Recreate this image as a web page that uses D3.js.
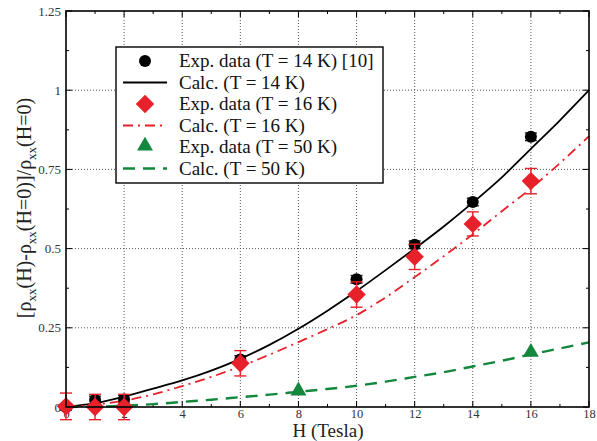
<!DOCTYPE html>
<html>
<head>
<meta charset="utf-8">
<script src="https://cdn.jsdelivr.net/npm/d3@7"></script>
<style>
body { margin: 0; background: #fff; }
svg text { font-family: "Liberation Serif", "DejaVu Serif", serif; }
</style>
</head>
<body>
<svg id="chart" width="597" height="441"></svg>
<script>
// values
var curveH = [0,1,2,3,4,5,6,7,8,9,10,11,12,13,14,15,16,17,18];
var calc14 = [0,0.012,0.033,0.058,0.084,0.115,0.152,0.196,0.247,0.304,0.366,0.432,0.5,0.57,0.645,0.725,0.815,0.905,1.0];
var calc16 = [0,0.007,0.02,0.04,0.066,0.095,0.128,0.165,0.205,0.246,0.29,0.346,0.41,0.476,0.545,0.618,0.69,0.77,0.855];
var calc50 = [0,0.001,0.004,0.009,0.016,0.023,0.031,0.039,0.048,0.057,0.067,0.08,0.095,0.11,0.128,0.146,0.166,0.185,0.204];

var exp14H = [0,1,2,6,10,12,14,16];
var exp14V = [0,0.022,0.024,0.15,0.403,0.512,0.647,0.853];
var exp14E = [0.01,0.012,0.012,0.012,0.012,0.012,0.012,0.012];

var exp16H = [0,1,2,6,10,12,14,16];
var exp16V = [0.002,0,0,0.138,0.355,0.474,0.578,0.713];
var exp16E = [0.042,0.04,0.04,0.04,0.04,0.04,0.038,0.04];

var exp50H = [8,16];
var exp50V = [0.048,0.17];

var xTicks = [0,2,4,6,8,10,12,14,16,18];
var yTicks = [0,0.25,0.5,0.75,1,1.25];
var yTickLabels = ["0","0.25","0.5","0.75","1","1.25"];

var legendLabels = ["Exp. data (T = 14 K) [10]","Calc. (T = 14 K)","Exp. data (T = 16 K)","Calc. (T = 16 K)","Exp. data (T = 50 K)","Calc. (T = 50 K)"];

var red = "#e8202a", green = "#13873c";
var serif = "Liberation Serif";

var svg = d3.select("#chart");
var pL = 66, pR = 589, pT = 11, pB = 407;
var x = d3.scaleLinear().domain([0,18]).range([pL,pR]);
var y = d3.scaleLinear().domain([0,1.25]).range([pB,pT]);

// grid
var grid = svg.append("g").attr("stroke","#555").attr("stroke-width",1).attr("stroke-dasharray","1,2");
grid.selectAll(".gx").data(xTicks.slice(1,-1)).enter().append("line")
	.attr("x1",function(d){return x(d);}).attr("x2",function(d){return x(d);})
	.attr("y1",pT).attr("y2",pB);
grid.selectAll(".gy").data(yTicks.slice(1,-1)).enter().append("line")
	.attr("x1",pL).attr("x2",pR)
	.attr("y1",function(d){return y(d);}).attr("y2",function(d){return y(d);});

// axes
var xAxis = d3.axisBottom(x).tickValues(xTicks).tickSize(0).tickPadding(2);
var gx = svg.append("g").attr("transform","translate(0,"+pB+")").call(xAxis);
gx.select(".domain").remove();
gx.selectAll("text").attr("font-size",12.5).attr("fill","#333").attr("font-family",serif);

var yAxis = d3.axisLeft(y).tickValues(yTicks).tickSize(0).tickPadding(5)
	.tickFormat(function(d,i){return yTickLabels[i];});
var gy = svg.append("g").attr("transform","translate("+pL+",0)").call(yAxis);
gy.select(".domain").remove();
gy.selectAll("text").attr("font-size",13).attr("fill","#333").attr("font-family",serif);

// inward ticks on all four sides
var yMinor = d3.range(0,1.26,0.125);
var xMinor = d3.range(0,18.1,1);
var ticks = svg.append("g").attr("stroke","#000").attr("stroke-width",1);
[pL,pR].forEach(function(px){
	var dir = px==pL ? 1 : -1;
	ticks.selectAll(null).data(yMinor).enter().append("line")
		.attr("x1",px).attr("x2",function(d,i){return px+dir*(i%2==0?6:3);})
		.attr("y1",function(d){return y(d);}).attr("y2",function(d){return y(d);});
});
[pB,pT].forEach(function(py){
	var dir = py==pB ? -1 : 1;
	ticks.selectAll(null).data(xMinor).enter().append("line")
		.attr("y1",py).attr("y2",function(d,i){return py+dir*(i%2==0?6:3);})
		.attr("x1",function(d){return x(d);}).attr("x2",function(d){return x(d);});
});

// curves
var line = d3.line().x(function(d,i){return x(curveH[i]);}).y(function(d){return y(d);}).curve(d3.curveMonotoneX);
svg.append("path").datum(calc14).attr("d",line).attr("fill","none").attr("stroke","#000").attr("stroke-width",1.8);
svg.append("path").datum(calc16).attr("d",line).attr("fill","none").attr("stroke",red).attr("stroke-width",1.8)
	.attr("stroke-dasharray","10,5,2,5");
svg.append("path").datum(calc50).attr("d",line).attr("fill","none").attr("stroke",green).attr("stroke-width",2.4)
	.attr("stroke-dasharray","12,8");

// error bars
function errorBars(hs, vs, es, color){
	var g = svg.append("g").attr("stroke",color).attr("stroke-width",1.4);
	hs.forEach(function(h,i){
		var cx = x(h), y1 = y(vs[i]+es[i]), y2 = y(vs[i]-es[i]);
		g.append("line").attr("x1",cx).attr("x2",cx).attr("y1",y1).attr("y2",y2);
		g.append("line").attr("x1",cx-6).attr("x2",cx+6).attr("y1",y1).attr("y2",y1);
		g.append("line").attr("x1",cx-6).attr("x2",cx+6).attr("y1",y2).attr("y2",y2);
	});
}
errorBars(exp14H, exp14V, exp14E, "#222");
svg.append("g").selectAll("circle").data(exp14V).enter().append("circle")
	.attr("cx",function(d,i){return x(exp14H[i]);}).attr("cy",function(d){return y(d);})
	.attr("r",6).attr("fill","#000");

errorBars(exp16H, exp16V, exp16E, red);
var diamond = d3.symbol().type(d3.symbolSquare).size(170);
svg.append("g").selectAll("path").data(exp16V).enter().append("path")
	.attr("d",diamond)
	.attr("transform",function(d,i){return "translate("+x(exp16H[i])+","+y(d)+") rotate(45)";})
	.attr("fill",red);

var tri = d3.symbol().type(d3.symbolTriangle).size(110);
svg.append("g").selectAll("path").data(exp50V).enter().append("path")
	.attr("d",tri)
	.attr("transform",function(d,i){return "translate("+x(exp50H[i])+","+(y(d)-1)+")";})
	.attr("fill",green);

// frame
svg.append("rect").attr("x",pL).attr("y",pT).attr("width",pR-pL).attr("height",pB-pT)
	.attr("fill","none").attr("stroke","#000").attr("stroke-width",1.6);

// legend
var lg = svg.append("g");
lg.append("rect").attr("x",116).attr("y",47).attr("width",267).attr("height",136)
	.attr("fill","#fff").attr("stroke","#000").attr("stroke-width",1.4);
var rowY = function(i){return 61 + i*21.5;};
lg.selectAll("text").data(legendLabels).enter().append("text")
	.attr("x",179).attr("y",function(d,i){return rowY(i)+6;})
	.attr("font-size",19).attr("font-family",serif).attr("fill","#111").text(function(d){return d;});
lg.append("circle").attr("cx",145).attr("cy",rowY(0)).attr("r",6).attr("fill","#000");
lg.append("path").attr("d",diamond).attr("transform","translate(145,"+rowY(2)+") rotate(45)").attr("fill",red);
lg.append("path").attr("d",tri).attr("transform","translate(145,"+(rowY(4)-1)+")").attr("fill",green);
lg.append("line").attr("x1",123).attr("x2",167).attr("y1",rowY(1)).attr("y2",rowY(1)).attr("stroke","#000").attr("stroke-width",1.8);
lg.append("line").attr("x1",123).attr("x2",167).attr("y1",rowY(3)).attr("y2",rowY(3)).attr("stroke",red).attr("stroke-width",1.8).attr("stroke-dasharray","10,5,2,5");
lg.append("line").attr("x1",123).attr("x2",167).attr("y1",rowY(5)).attr("y2",rowY(5)).attr("stroke",green).attr("stroke-width",2.4).attr("stroke-dasharray","12,8");

// axis titles
svg.append("text").attr("x",328).attr("y",437).attr("text-anchor","middle").attr("font-size",19)
	.attr("font-family",serif).attr("fill","#222").text("H (Tesla)");

var yt = svg.append("text").attr("transform","translate(31,208) rotate(-90)").attr("text-anchor","middle")
	.attr("font-size",20).attr("font-family",serif).attr("fill","#222");
var parts = [["[ρ",false],["xx",true],["(H)-ρ",false],["xx",true],["(H=0)]/ρ",false],["xx",true],["(H=0)",false]];
parts.forEach(function(p,i){
	var t = yt.append("tspan").text(p[0]);
	if (p[1]) t.attr("font-size",13).attr("dy",5);
	else if (i>0) t.attr("dy",-5);
});
</script>
</body>
</html>
